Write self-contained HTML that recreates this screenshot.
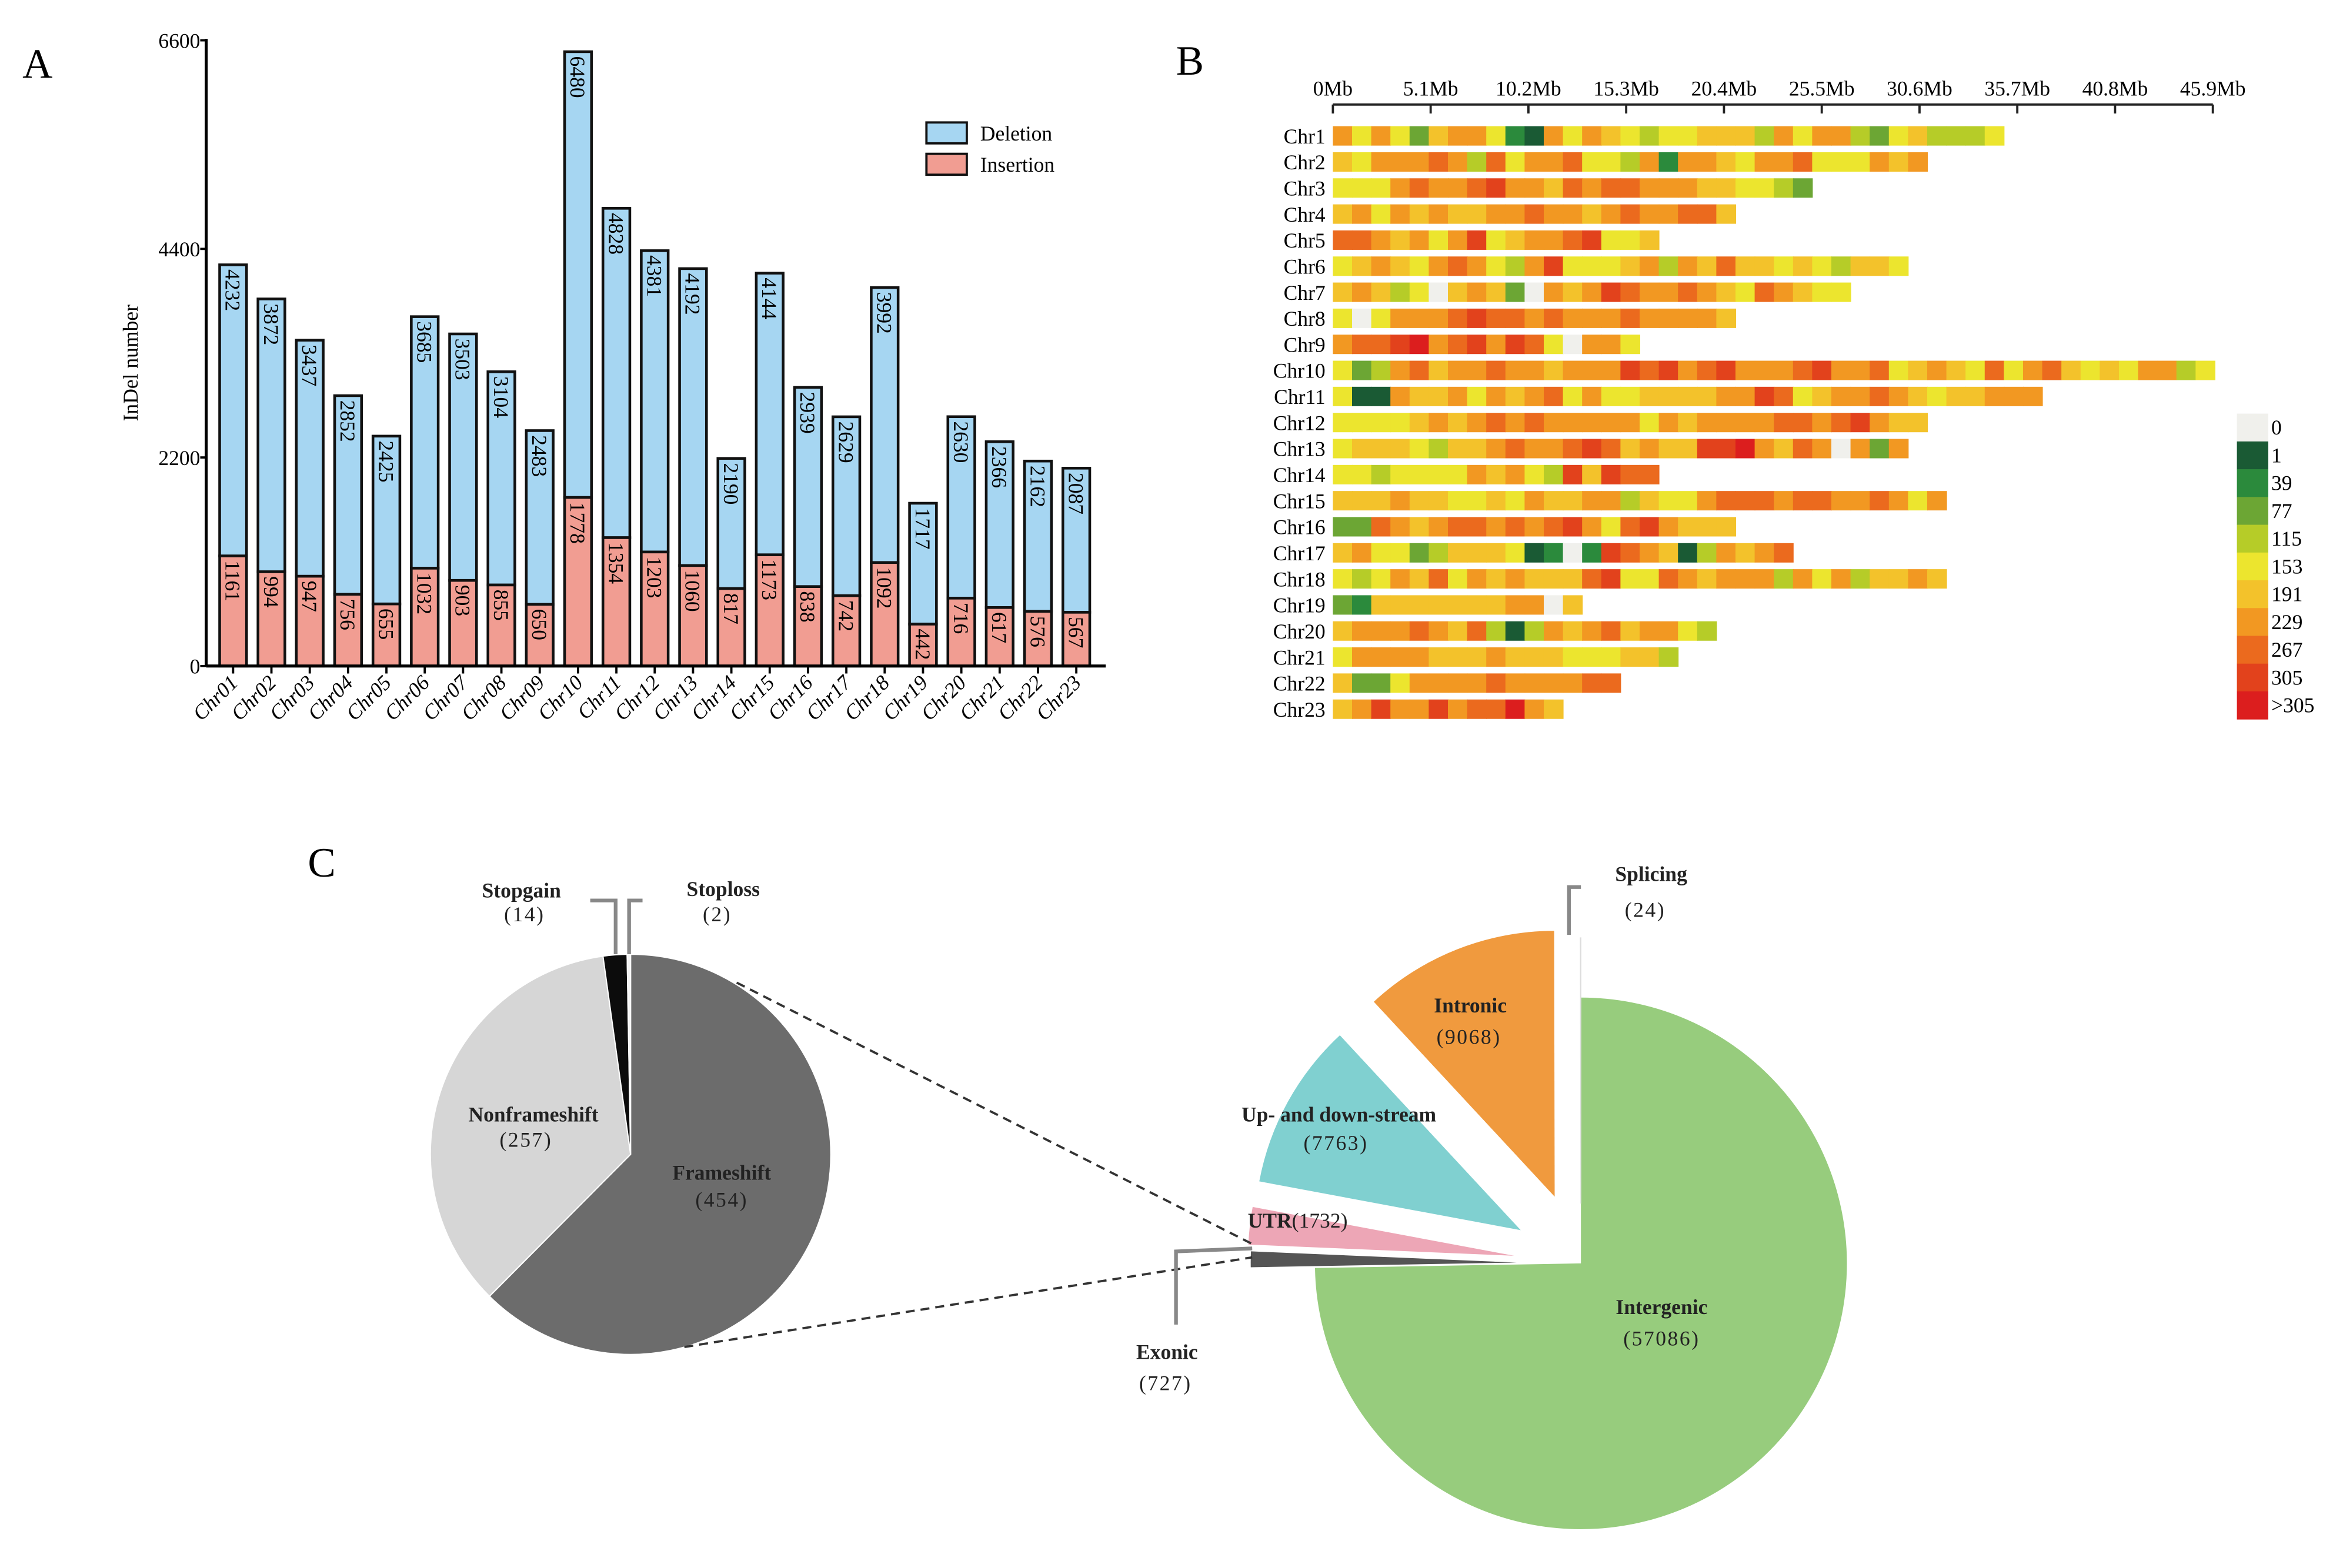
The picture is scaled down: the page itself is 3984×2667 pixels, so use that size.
<!DOCTYPE html>
<html><head><meta charset="utf-8"><style>
html,body{margin:0;padding:0;background:#fff;}
svg{display:block;font-family:"Liberation Serif",serif;}
</style></head><body>
<svg id="fig" xmlns="http://www.w3.org/2000/svg" width="3984" height="2667" viewBox="0 0 1568 1050" preserveAspectRatio="none">
<rect x="0" y="0" width="1568" height="1050" fill="#fff"/>
<g id="pa"></g>
<g id="pb"></g>
<g id="pc"></g>
</svg>
<script>
// ---------- Panel A data ----------
const chromosomes = ["Chr01","Chr02","Chr03","Chr04","Chr05","Chr06","Chr07","Chr08","Chr09","Chr10","Chr11","Chr12","Chr13","Chr14","Chr15","Chr16","Chr17","Chr18","Chr19","Chr20","Chr21","Chr22","Chr23"];
const totalValues = [4232,3872,3437,2852,2425,3685,3503,3104,2483,6480,4828,4381,4192,2190,4144,2939,2629,3992,1717,2630,2366,2162,2087];
const insertionValues = [1161,994,947,756,655,1032,903,855,650,1778,1354,1203,1060,817,1173,838,742,1092,442,716,617,576,567];
const yTicks = [0,2200,4400,6600];

// ---------- Panel B data (density class per 1Mb bin; 0..9, x = >305) ----------
const heatRows = ["Chr1","Chr2","Chr3","Chr4","Chr5","Chr6","Chr7","Chr8","Chr9","Chr10","Chr11","Chr12","Chr13","Chr14","Chr15","Chr16","Chr17","Chr18","Chr19","Chr20","Chr21","Chr22","Chr23"];
const heatBins = [
"75753677521757654556664757743564445",
"6577787485778554727765778555767",
"5557877897768788777665543",
"675767667787767877886",
"88767579567789556",
"567657875479555674768665654665",
"676450676307679877876587655",
"505777898878777877776",
"7889x78979850775",
"5347867787767779897897778977856765857865657745",
"5117667576785755666677985677876566777",
"5555676787877777576777788789766",
"566654667877898676699x76870737",
"55455557675496988",
"66676655657667746557888788778757",
"338767887878975897666",
"675534666512029876147678",
"54576857676668955876777475746676",
"3266666667706",
"67778768414767867754",
"577776667666555664",
"633577778777788",
"679779788x76"];
const mbTicks = ["0Mb","5.1Mb","10.2Mb","15.3Mb","20.4Mb","25.5Mb","30.6Mb","35.7Mb","40.8Mb","45.9Mb"];
const legendLabels = ["0","1","39","77","115","153","191","229","267","305",">305"];

// ---------- Panel C data ----------
const codingLabels = ["Frameshift","Nonframeshift","Stopgain","Stoploss"];
const codingValues = [454,257,14,2];
const regionLabels = ["Intergenic","Exonic","UTR","Up- and down-stream","Intronic","Splicing"];
const regionValues = [57086,727,1732,7763,9068,24];

const NS="http://www.w3.org/2000/svg";
function mk(parent,tag,attrs,text){const e=document.createElementNS(NS,tag);for(const k in attrs)e.setAttribute(k,attrs[k]);if(text!==undefined)e.textContent=text;parent.appendChild(e);return e;}

// ================= Panel A =================
const pa=document.getElementById('pa');
const ax0=138, ay0=446, ay1=27, ymax=6600;
const yS=v=>ay0-(v/ymax)*(ay0-ay1);
const xS=i=>156+i*25.65;
let t=mk(pa,'text',{x:15,y:52,'font-size':28},'A');


yTicks.forEach(v=>{
  const tk=mk(pa,'line',{x1:ax0-4,x2:ax0,y1:yS(v),y2:yS(v),stroke:'#000','stroke-width':1.5});
  
  
  const lb=mk(pa,'text',{x:ax0-4,y:yS(v)+5,'font-size':14,'text-anchor':'end'},String(v));
  
  
});
t=mk(pa,'text',{x:0,y:0,'font-size':14,'text-anchor':'middle',transform:'translate(92,243) rotate(-90)'},'InDel number');


chromosomes.forEach((c,i)=>{
  const cx=xS(i), w=18;
  const del=mk(pa,'rect',{x:cx-w/2,y:yS(totalValues[i]),width:w,height:yS(insertionValues[i])-yS(totalValues[i]),fill:'#a6d6f2',stroke:'#111','stroke-width':1.8});
  
  
  const ins=mk(pa,'rect',{x:cx-w/2,y:yS(insertionValues[i]),width:w,height:ay0-yS(insertionValues[i]),fill:'#f19d92',stroke:'#111','stroke-width':1.8});
  
  
  const l1=mk(pa,'text',{x:0,y:0,'font-size':14,transform:`translate(${cx-5},${yS(totalValues[i])+3}) rotate(90)`},String(totalValues[i]));
  
  
  const l2=mk(pa,'text',{x:0,y:0,'font-size':14,transform:`translate(${cx-5},${yS(insertionValues[i])+3}) rotate(90)`},String(insertionValues[i]));
  
  
  const tk=mk(pa,'line',{x1:cx,x2:cx,y1:ay0,y2:ay0+5,stroke:'#000','stroke-width':1.5});
  
  
  const xl=mk(pa,'text',{x:0,y:0,'font-size':14,'font-style':'italic','text-anchor':'end',transform:`translate(${cx+4},${ay0+12}) rotate(-45)`},c);
  
  
});
t=mk(pa,'line',{x1:ax0,x2:ax0,y1:ay1-1,y2:ay0,stroke:'#000','stroke-width':2});


t=mk(pa,'line',{x1:ax0,x2:740,y1:ay0,y2:ay0,stroke:'#000','stroke-width':2});


[['Deletion','#a6d6f2',82],['Insertion','#f19d92',103]].forEach(([n,col,y])=>{
  const r=mk(pa,'rect',{x:620,y:y,width:27,height:14,fill:col,stroke:'#111','stroke-width':1.5});
  
  
  const lt=mk(pa,'text',{x:656,y:y+12,'font-size':14},n);
  
  
});

// ================= Panel B =================
const pb=document.getElementById('pb');
const colorMap={'0':'#f0f0ec','1':'#1a5a34','2':'#2b8a3c','3':'#6ca634','4':'#b6cc28','5':'#ece52e','6':'#f3c22b','7':'#f29822','8':'#eb6a1e','9':'#e2421c','x':'#dc1e1e'};
const bx0=892, pxPerMb=12.83;
const bX=mb=>bx0+mb*pxPerMb;
t=mk(pb,'text',{x:787,y:50,'font-size':28},'B');


t=mk(pb,'line',{x1:bX(0),x2:bX(45.9),y1:70,y2:70,stroke:'#222','stroke-width':1.5});


mbTicks.forEach((lab,k)=>{
  const x=bX(k*5.1);
  const tk=mk(pb,'line',{x1:x,x2:x,y1:70,y2:76,stroke:'#222','stroke-width':1.5});
  
  
  const lb=mk(pb,'text',{x:x,y:64,'font-size':14,'text-anchor':'middle'},lab);
  
  
});
heatRows.forEach((name,r)=>{
  const cy=91+r*17.45;
  const lb=mk(pb,'text',{x:887,y:cy+5,'font-size':14,'text-anchor':'end'},name);
  
  
  const s=heatBins[r];
  for(let j=0;j<s.length;j++){
    const c=mk(pb,'rect',{x:bX(j),y:cy-6.5,width:pxPerMb+0.4,height:13,fill:colorMap[s[j]]});
    
    
  }
});
legendLabels.forEach((lab,k)=>{
  const y=277+k*18.6;
  const sw=mk(pb,'rect',{x:1497,y:y,width:21,height:18.8,fill:colorMap[k===10?'x':String(k)]});
  
  
  const lt=mk(pb,'text',{x:1520,y:y+14,'font-size':14},lab);
  
  
});

// ================= Panel C =================
const pc=document.getElementById('pc');
t=mk(pc,'text',{x:206,y:587,'font-size':28},'C');


function pt(cx,cy,r,deg){const a=deg*Math.PI/180;return [cx+r*Math.sin(a),cy-r*Math.cos(a)];}
function wedge(cx,cy,r,a0,a1){
  const p0=pt(cx,cy,r,a0),p1=pt(cx,cy,r,a1);const large=(a1-a0)>180?1:0;
  return `M${cx},${cy}L${p0[0]},${p0[1]}A${r},${r} 0 ${large} 1 ${p1[0]},${p1[1]}Z`;
}
// left pie
const codingColors=['#6c6c6c','#d6d6d6','#0c0c0c','#f4f4f4'];
const codingTotal=codingValues.reduce((a,b)=>a+b,0);
let acc=0;
codingValues.forEach((v,i)=>{
  const a0=acc/codingTotal*360; acc+=v; const a1=acc/codingTotal*360;
  const p=mk(pc,'path',{d:wedge(422,773,134,a0,a1),fill:codingColors[i],stroke:'#fff','stroke-width':0.8});
  
  
});
// right pie (exploded minor slices)
const regionColors=['#97cc7d','#555555','#eda6b6','#80d0d0','#f09a3e','#ffffff'];
const regionOffsets=[0,43,45,46,48,40];
const regionTotal=regionValues.reduce((a,b)=>a+b,0);
acc=0;
regionValues.forEach((v,i)=>{
  const a0=acc/regionTotal*360; acc+=v; const a1=acc/regionTotal*360;
  const c=pt(1058,846,regionOffsets[i],(a0+a1)/2);
  const p=mk(pc,'path',{d:wedge(c[0],c[1],178,a0,a1),fill:regionColors[i],stroke:i===5?'#ddd':'none','stroke-width':0.6});
  
  
});
// connectors
[[493,658,838,833],[458,902,838,842]].forEach(l=>{
  const d=mk(pc,'line',{x1:l[0],y1:l[1],x2:l[2],y2:l[3],stroke:'#333','stroke-width':1.5,'stroke-dasharray':'6,4'});
  
  
});
// leader lines
[['M412,639L412,603L395,603'],['M421,639L421,603L430,603'],['M838,836L787,838L787,887'],['M1050,626L1050,594L1058,594']].forEach(([d])=>{
  const p=mk(pc,'path',{d:d,fill:'none',stroke:'#888','stroke-width':2.5});
  
  
});
const pieLabels=[
 ['Stopgain',349,601,'(14)',351,617],['Stoploss',484,600,'(2)',480,617],
 ['Nonframeshift',357,751,'(257)',352,768],['Frameshift',483,790,'(454)',483,808],
 ['Splicing',1105,590,'(24)',1101,614],['Intronic',984,678,'(9068)',983,699],
 ['Up- and down-stream',896,751,'(7763)',894,770],['Intergenic',1112,880,'(57086)',1112,901],
 ['Exonic',781,910,'(727)',780,931]];
pieLabels.forEach(([n,x,y,v,x2,y2])=>{
  const a=mk(pc,'text',{x:x,y:y,'font-size':14,'font-weight':'bold','text-anchor':'middle','fill':'#222'},n);
  
  
  const b=mk(pc,'text',{x:x2,y:y2,'font-size':14,'text-anchor':'middle','fill':'#222','letter-spacing':'1'},v);
  
  
});
t=mk(pc,'text',{x:835,y:822,'font-size':14,'fill':'#222'});


mk(t,'tspan',{'font-weight':'bold'},'UTR');
mk(t,'tspan',{},'(1732)');
</script>
</body></html>
